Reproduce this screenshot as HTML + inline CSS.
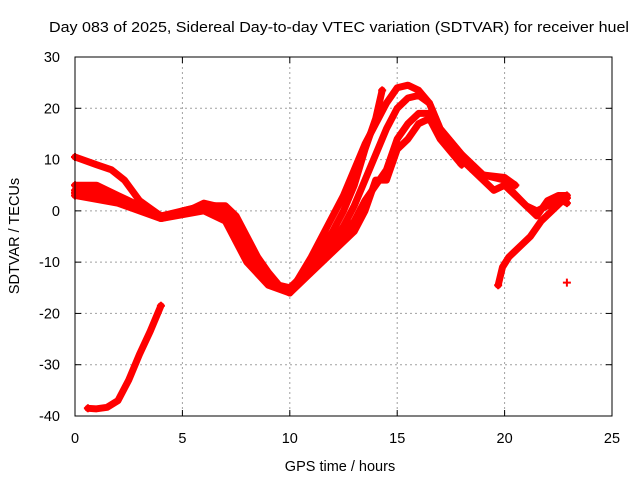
<!DOCTYPE html>
<html><head><meta charset="utf-8"><style>
body{margin:0;background:#fff;width:640px;height:480px;overflow:hidden}
svg text{font-family:"Liberation Sans",sans-serif;font-size:14.5px;fill:#000}
</style></head><body>
<svg id="c" width="640" height="480">
<text x="49" y="32" textLength="580" lengthAdjust="spacingAndGlyphs">Day 083 of 2025, Sidereal Day-to-day VTEC variation (SDTVAR) for receiver huel</text>
<text x="340" y="471" text-anchor="middle">GPS time / hours</text>
<text transform="translate(19,236) rotate(-90)" text-anchor="middle">SDTVAR / TECUs</text>
<g id="grid"></g><g id="ticks"></g><g id="series"></g>
<rect x="75" y="57" width="537" height="359" fill="none" stroke="#000" stroke-width="1"/>
</svg>
<script>
const xTicks=[0,5,10,15,20,25];
const yTicks=[-40,-30,-20,-10,0,10,20,30];
const trace1=[[0.6,-38.5],[1.0,-38.6],[1.5,-38.3],[2.0,-37],[2.5,-33],[3.0,-28],[3.5,-23.5],[4.0,-18.5]];
const trace2=[[0,10.5],[1,9],[1.7,8],[2.3,6],[3,2],[3.5,0.5],[4,-1],[4.5,-1],[5,0],[6,1],[7,1],[7.5,-1],[8,-5],[8.5,-9],[9,-12],[9.5,-14.5],[10,-15],[10.5,-13],[11,-10],[11.5,-7],[12,-4],[12.5,0],[13,5],[13.5,12],[14,18],[14.3,23.5]];
const trace3=[[0,5],[1,5],[2,3],[3,1],[4,-1.5],[5,-0.5],[6,1.5],[7,0.5],[8,-7],[9,-13],[10,-16],[11,-9],[11.5,-5],[12,-1],[12.5,3],[13,8],[13.5,13],[14,17],[14.5,21],[15,24],[15.5,24.5],[16,23.5],[16.5,21],[17,16],[18,11],[18.5,8],[19,7],[20,6.5],[20.5,5]];
const trace4=[[0,4],[1,4],[2,2.5],[3,1],[4,-1],[5,0],[6,1],[7,0],[8,-8],[9,-13.5],[10,-15.5],[11,-10],[12,-6],[12.5,-3],[13,1],[13.5,6],[14,11],[14.5,16],[15,20],[15.5,22],[16,22.5],[16.5,21],[17,16],[18,11],[19,7],[20,6],[20.3,4],[21,1],[21.5,0],[22,1],[22.5,2.5],[22.9,2.5]];
const trace5=[[0,3.5],[2,2],[4,-1],[6,0.5],[7,-1],[8,-9],[9,-14],[10,-16],[11,-11],[12,-7],[13,-2],[13.5,2],[14,5],[14.5,8],[15,14],[15.5,17],[16,19],[16.5,19],[17,15],[18,10],[19,6],[19.5,4],[20,5],[20.5,3],[21.5,-1],[22,2],[22.5,3],[22.9,3]];
const trace6=[[0,3],[2,1.5],[4,-1.5],[6,0],[7,-2],[8,-10],[9,-14.5],[10,-16],[11,-12],[12,-8],[13,-4],[13.5,0],[14,6],[14.5,6],[15,12],[15.5,14],[16,17],[16.5,18],[17,14],[18,9]];
const trace7=[[19.7,-14.5],[19.9,-11],[20.2,-9],[20.7,-7],[21.2,-5],[21.7,-2],[22.2,0],[22.7,2],[22.9,1.5]];
const stray=[[22.9,-14]];
const traces=[trace1,trace2,trace3,trace4,trace5,trace6,trace7];
const NS="http://www.w3.org/2000/svg";
const X=v=>75+v*(537/25), Y=v=>416-(v+40)*(359/70);
const grid=document.getElementById('grid'),ticks=document.getElementById('ticks'),ser=document.getElementById('series');
function mk(t,a,p){const e=document.createElementNS(NS,t);for(const k in a)e.setAttribute(k,a[k]);p.appendChild(e);return e;}
xTicks.forEach(v=>{
 if(v>0&&v<25){const g=mk('line',{x1:X(v),x2:X(v),y1:57,y2:416,stroke:'#a0a0a0','stroke-dasharray':'2,3'},grid);
 
 }
 mk('line',{x1:X(v),x2:X(v),y1:416,y2:410,stroke:'#000'},ticks);mk('line',{x1:X(v),x2:X(v),y1:57,y2:63,stroke:'#000'},ticks);
 const t=mk('text',{x:X(v),y:443,'text-anchor':'middle'},ticks);t.textContent=v;
 
 
});
yTicks.forEach(v=>{
 if(v>-40&&v<30){const g=mk('line',{x1:75,x2:612,y1:Y(v),y2:Y(v),stroke:'#a0a0a0','stroke-dasharray':'2,3'},grid);
 
 }
 mk('line',{x1:75,x2:81,y1:Y(v),y2:Y(v),stroke:'#000'},ticks);mk('line',{x1:612,x2:606,y1:Y(v),y2:Y(v),stroke:'#000'},ticks);
 const t=mk('text',{x:60,y:Y(v)+5,'text-anchor':'end'},ticks);t.textContent=v;
 
 
});
traces.forEach((tr,i)=>{
 const p=mk('polyline',{points:tr.map(d=>X(d[0])+','+Y(d[1])).join(' '),fill:'none',stroke:'#ff0000','stroke-width':7,'stroke-linejoin':'round','stroke-linecap':'round'},ser);
 
 
 [tr[0],tr[tr.length-1]].forEach(d=>{mk('path',{d:`M${X(d[0])-4},${Y(d[1])}h8M${X(d[0])},${Y(d[1])-4}v8`,stroke:'#ff0000','stroke-width':2},ser);});
});
stray.forEach(d=>{
 const m=mk('path',{d:`M${X(d[0])-4},${Y(d[1])}h8M${X(d[0])},${Y(d[1])-4}v8`,stroke:'#ff0000','stroke-width':2},ser);
 
 
});
</script>
</body></html>
